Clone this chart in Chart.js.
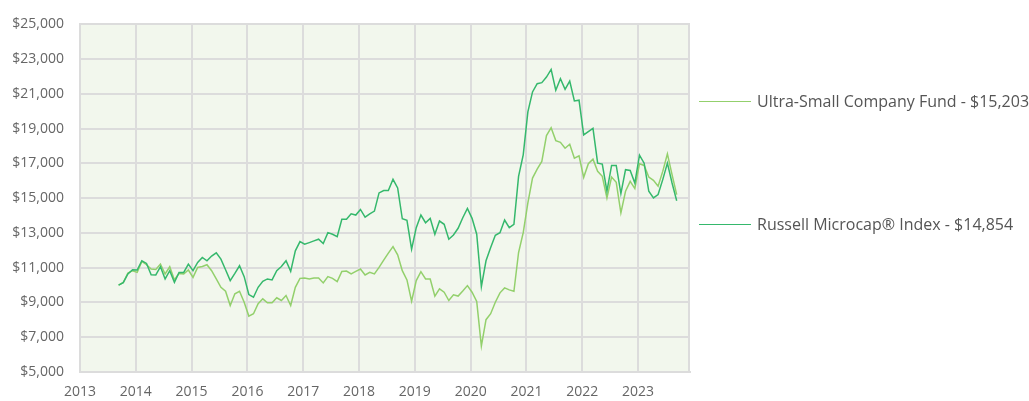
<!DOCTYPE html>
<html><head><meta charset="utf-8">
<script src="https://cdn.jsdelivr.net/npm/chart.js@4/dist/chart.umd.min.js"></script>
<style>
html,body{margin:0;padding:0;background:#fff;}
#wrap{position:relative;width:1029px;height:401px;overflow:hidden;}
#c{position:absolute;left:0;top:0;}
.lg{position:absolute;left:699px;height:20px;line-height:20px;font-family:"Open Sans",sans-serif;font-size:16px;color:#555;white-space:nowrap;}
.lg .l{display:inline-block;width:52px;height:0;border-top:1.5px solid;vertical-align:middle;margin-right:6px;position:relative;top:-1px;}
</style></head>
<body>
<div id="wrap"><canvas id="c" width="1029" height="401"></canvas></div>
<script>
// Month-end observations (Sep 2013 .. Sep 2023)
const months = [
 "2013-09","2013-10","2013-11","2013-12",
 "2014-01","2014-02","2014-03","2014-04","2014-05","2014-06","2014-07","2014-08","2014-09","2014-10","2014-11","2014-12",
 "2015-01","2015-02","2015-03","2015-04","2015-05","2015-06","2015-07","2015-08","2015-09","2015-10","2015-11","2015-12",
 "2016-01","2016-02","2016-03","2016-04","2016-05","2016-06","2016-07","2016-08","2016-09","2016-10","2016-11","2016-12",
 "2017-01","2017-02","2017-03","2017-04","2017-05","2017-06","2017-07","2017-08","2017-09","2017-10","2017-11","2017-12",
 "2018-01","2018-02","2018-03","2018-04","2018-05","2018-06","2018-07","2018-08","2018-09","2018-10","2018-11","2018-12",
 "2019-01","2019-02","2019-03","2019-04","2019-05","2019-06","2019-07","2019-08","2019-09","2019-10","2019-11","2019-12",
 "2020-01","2020-02","2020-03","2020-04","2020-05","2020-06","2020-07","2020-08","2020-09","2020-10","2020-11","2020-12",
 "2021-01","2021-02","2021-03","2021-04","2021-05","2021-06","2021-07","2021-08","2021-09","2021-10","2021-11","2021-12",
 "2022-01","2022-02","2022-03","2022-04","2022-05","2022-06","2022-07","2022-08","2022-09","2022-10","2022-11","2022-12",
 "2023-01","2023-02","2023-03","2023-04","2023-05","2023-06","2023-07","2023-08","2023-09"
];

const fundLabel = "Ultra-Small Company Fund - $15,203";
const indexLabel = "Russell Microcap\u00AE Index - $14,854";

const fundValues = [
 10000,10150,10697,10829,
 10731,11360,11171,10926,10903,11211,10640,11057,10297,10674,10640,10869,
 10446,11017,11074,11171,10829,10354,9874,9646,8829,9497,9646,9017,
 8217,8354,8926,9211,8983,8983,9269,9114,9400,8829,9874,10389,
 10411,10354,10411,10411,10126,10486,10389,10200,10789,10811,10640,10789,
 10926,10583,10731,10640,11017,11440,11840,12217,11743,10829,10297,9074,
 10257,10771,10354,10354,9360,9783,9589,9114,9440,9370,9657,9971,
 9589,9057,6486,8011,8354,9017,9554,9840,9726,9646,11874,13017,
 14731,16160,16674,17114,18600,19057,18314,18217,17874,18103,17303,17440,
 16200,16983,17246,16543,16257,15017,16217,15914,14160,15400,15971,15554,
 16983,16886,16217,16029,15686,16543,17554,16354,15203
];

const indexValues = [
 10000,10143,10640,10886,
 10869,11400,11246,10600,10583,11057,10354,10829,10160,10731,10731,11211,
 10829,11303,11589,11400,11669,11857,11497,10886,10257,10674,11114,10486,
 9457,9303,9874,10217,10354,10297,10829,11074,11400,10789,11971,12503,
 12354,12446,12543,12640,12389,13017,12926,12789,13783,13783,14103,14029,
 14354,13914,14103,14257,15303,15440,15440,16086,15589,13817,13726,12069,
 13303,14029,13589,13840,12926,13686,13497,12640,12886,13269,13874,14411,
 13840,12926,9914,11400,12160,12869,13017,13743,13303,13497,16257,17497,
 19971,21114,21589,21646,21971,22411,21211,21874,21269,21743,20600,20640,
 18640,18829,19017,17017,16960,15400,16886,16886,15269,16640,16600,15874,
 17474,17017,15400,15017,15211,16069,17017,15874,14854
];

const yearTicks = [2013,2014,2015,2016,2017,2018,2019,2020,2021,2022,2023];

const FUND_COLOR = "#93d06c";
const INDEX_COLOR = "#35b86c";
const GRID = "#dcdcdc";

function monthPos(m){ const [y,mo] = m.split("-").map(Number); return y + (mo - 0.7)/12; }
const fundData = months.map((m,i)=>({x:monthPos(m), y:fundValues[i]}));
const indexData = months.map((m,i)=>({x:monthPos(m), y:indexValues[i]}));

const plotBg = {
  id:'plotBg',
  beforeDraw(chart){
    const {ctx, chartArea:{left,top,right,bottom}} = chart;
    ctx.save(); ctx.fillStyle = '#f2f7ed'; ctx.fillRect(left,top,right-left,bottom-top); ctx.restore();
  },
  beforeDatasetsDraw(chart){
    const {ctx, chartArea:{top,right,bottom}} = chart;
    ctx.save(); ctx.strokeStyle = GRID; ctx.lineWidth = 2;
    ctx.beginPath(); ctx.moveTo(right-1, top); ctx.lineTo(right-1, bottom); ctx.stroke(); ctx.restore();
  }
};

new Chart(document.getElementById('c'), {
  type:'line',
  data:{ datasets:[
    {label:indexLabel, data:indexData, borderColor:INDEX_COLOR, borderWidth:1.5, pointRadius:0, tension:0, fill:false},
    {label:fundLabel, data:fundData, borderColor:FUND_COLOR, borderWidth:1.5, pointRadius:0, tension:0, fill:false}
  ]},
  options:{
    responsive:false, animation:false, devicePixelRatio:1,
    layout:{padding:{left:0, right:339, top:22, bottom:0}},
    plugins:{legend:{display:false}, tooltip:{enabled:false}},
    scales:{
      x:{type:'linear', min:2013, max:2023.93,
        afterBuildTicks(s){ s.ticks = yearTicks.map(v=>({value:v})); },
        afterFit(s){ s.height = 29; },
        grid:{color:GRID, lineWidth:2, drawTicks:false},
        border:{color:GRID, width:2},
        ticks:{padding:12, color:'#666', font:{family:'Open Sans', size:14}, callback:v=>String(v)}
      },
      y:{min:5000, max:25000,
        afterFit(s){ s.width = 80; },
        ticks:{stepSize:2000, padding:16, color:'#666', font:{family:'Open Sans', size:14},
          callback:v=>'$'+Number(v).toLocaleString('en-US')},
        grid:{color:GRID, lineWidth:2, drawTicks:false},
        border:{color:GRID, width:2}
      }
    }
  },
  plugins:[plotBg]
});

// HTML legend
const wrap = document.getElementById('wrap');
[[fundLabel, FUND_COLOR, 101],[indexLabel, INDEX_COLOR, 224]].forEach(([t,c,y])=>{
  const d = document.createElement('div'); d.className='lg'; d.style.top=(y-10)+'px';
  const l = document.createElement('span'); l.className='l'; l.style.borderColor=c;
  d.appendChild(l); d.appendChild(document.createTextNode(t)); wrap.appendChild(d);
});
</script>
</body></html>
